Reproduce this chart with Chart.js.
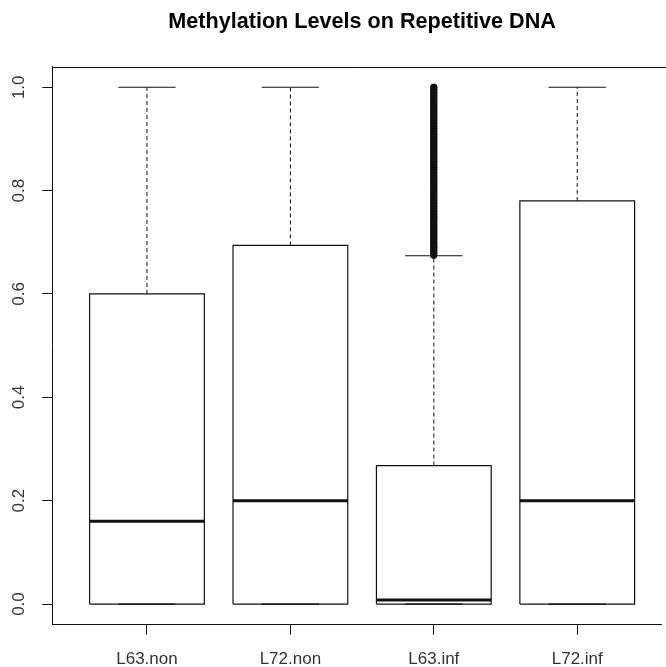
<!DOCTYPE html>
<html><head><meta charset="utf-8">
<script src="https://cdn.jsdelivr.net/npm/chart.js@4"></script>
<style>html,body{margin:0;padding:0;background:#fff;overflow:hidden}</style>
</head><body>
<canvas id="c" width="666" height="667"></canvas>
<script>
// ---- data ----
const categories = ['L63.non', 'L72.non', 'L63.inf', 'L72.inf'];
const lowerQuartile = [0, 0, 0, 0];
const medians = [0.16, 0.20, 0.008, 0.20];
const upperQuartile = [0.60, 0.694, 0.268, 0.78];
const lowerWhisker = [0, 0, 0, 0];
const upperWhisker = [1.0, 1.0, 0.674, 1.0];
// outliers of L63.inf (a dense, continuous run of points)
const outlierGroup = 3;
const outliers = [0.675, 0.680, 0.685, 0.690, 0.695, 0.700, 0.705, 0.710, 0.715, 0.720,
  0.725, 0.730, 0.735, 0.740, 0.745, 0.750, 0.755, 0.760, 0.765, 0.770, 0.775, 0.780,
  0.785, 0.790, 0.795, 0.800, 0.805, 0.810, 0.815, 0.820, 0.825, 0.830, 0.835, 0.840,
  0.845, 0.850, 0.855, 0.860, 0.865, 0.870, 0.875, 0.880, 0.885, 0.890, 0.895, 0.900,
  0.905, 0.910, 0.915, 0.920, 0.925, 0.930, 0.935, 0.940, 0.945, 0.950, 0.955, 0.960,
  0.965, 0.970, 0.975, 0.980, 0.985, 0.990, 0.995, 1.000];
const yTicks = [0.0, 0.2, 0.4, 0.6, 0.8, 1.0];
const yTickLabels = ['0.0', '0.2', '0.4', '0.6', '0.8', '1.0'];
const title = 'Methylation Levels on Repetitive DNA';

// ---- styling / geometry ----
const BOX_WIDTH = 0.8, CAP_WIDTH = 0.4;
const X_MIN = 0.34, X_MAX = 4.584;   // right edge of the plot is cropped in the reference
const Y_MIN = -0.04, Y_MAX = 1.04;
const INK = '#111', TXT = '#333';
const FONT = '"Liberation Sans", Arial, Helvetica, sans-serif';

const datasets = [];
const seg = (pts, extra) => Object.assign({
  type: 'line', order: 5, data: pts, borderColor: INK, borderWidth: 1.2,
  pointRadius: 0, fill: false, tension: 0, borderJoinStyle: 'miter'
}, extra || {});
categories.forEach((c, i) => {
  const x = i + 1, h = BOX_WIDTH / 2, k = CAP_WIDTH / 2;
  // box outline (lower quartile to upper quartile)
  datasets.push(seg([
    { x: x - h, y: lowerQuartile[i] }, { x: x + h, y: lowerQuartile[i] },
    { x: x + h, y: upperQuartile[i] }, { x: x - h, y: upperQuartile[i] },
    { x: x - h, y: lowerQuartile[i] }
  ]));
  // whiskers
  datasets.push(seg([{ x, y: upperQuartile[i] }, { x, y: upperWhisker[i] }], { borderDash: [4, 3], borderWidth: 1 }));
  datasets.push(seg([{ x, y: lowerQuartile[i] }, { x, y: lowerWhisker[i] }], { borderDash: [4, 3], borderWidth: 1 }));
  // staples
  datasets.push(seg([{ x: x - k, y: upperWhisker[i] }, { x: x + k, y: upperWhisker[i] }]));
  datasets.push(seg([{ x: x - k, y: lowerWhisker[i] }, { x: x + k, y: lowerWhisker[i] }]));
  // median
  datasets.push(seg([{ x: x - h, y: medians[i] }, { x: x + h, y: medians[i] }],
    { borderWidth: 3, order: 2, borderCapStyle: 'butt' }));
});
datasets.push({
  type: 'scatter', order: 1,
  data: outliers.map(v => ({ x: outlierGroup, y: v })),
  pointRadius: 3.3, pointStyle: 'circle', backgroundColor: INK, borderColor: INK, borderWidth: 1
});

const framePlugin = {
  id: 'frameAndTitle',
  afterDraw(chart) {
    const { ctx, chartArea: a, scales } = chart;
    ctx.save();
    ctx.strokeStyle = INK; ctx.lineWidth = 1;
    ctx.beginPath();
    ctx.moveTo(a.left, Math.round(a.top) + 0.5);
    ctx.lineTo(a.right + 20, Math.round(a.top) + 0.5);
    ctx.stroke();
    ctx.fillStyle = '#000';
    ctx.font = 'bold 21.6px ' + FONT;
    ctx.textAlign = 'center'; ctx.textBaseline = 'middle';
    ctx.fillText(title, scales.x.getPixelForValue((1 + categories.length) / 2), 22);
    ctx.restore();
  }
};

new Chart(document.getElementById('c'), {
  type: 'line',
  data: { datasets },
  plugins: [framePlugin],
  options: {
    responsive: false, animation: false, devicePixelRatio: 1,
    layout: { padding: { top: 66.6, right: 0, left: 0, bottom: 0 } },
    plugins: { legend: { display: false }, tooltip: { enabled: false }, title: { display: false } },
    scales: {
      x: {
        type: 'linear', min: X_MIN, max: X_MAX, offset: false,
        afterBuildTicks: s => { s.ticks = categories.map((c, i) => ({ value: i + 1 })); },
        afterFit: s => { s.height = 42.3; },
        ticks: { callback: v => categories[v - 1], font: { size: 17, family: FONT }, color: TXT, padding: 14, maxRotation: 0, autoSkip: false },
        grid: { offset: false, drawOnChartArea: false, drawTicks: true, tickLength: 10, color: INK },
        border: { display: true, color: INK, width: 1 }
      },
      y: {
        type: 'linear', min: Y_MIN, max: Y_MAX,
        afterBuildTicks: s => { s.ticks = yTicks.map(v => ({ value: v })); },
        afterFit: s => { s.width = 52.3; },
        ticks: {
          callback: (v) => yTickLabels[yTicks.indexOf(v)], font: { size: 17, family: FONT }, color: TXT,
          minRotation: 90, maxRotation: 90, crossAlign: 'center', padding: 11, autoSkip: false
        },
        grid: { offset: false, drawOnChartArea: false, drawTicks: true, tickLength: 10, color: INK },
        border: { display: true, color: INK, width: 1 }
      }
    }
  }
});
</script>
</body></html>
